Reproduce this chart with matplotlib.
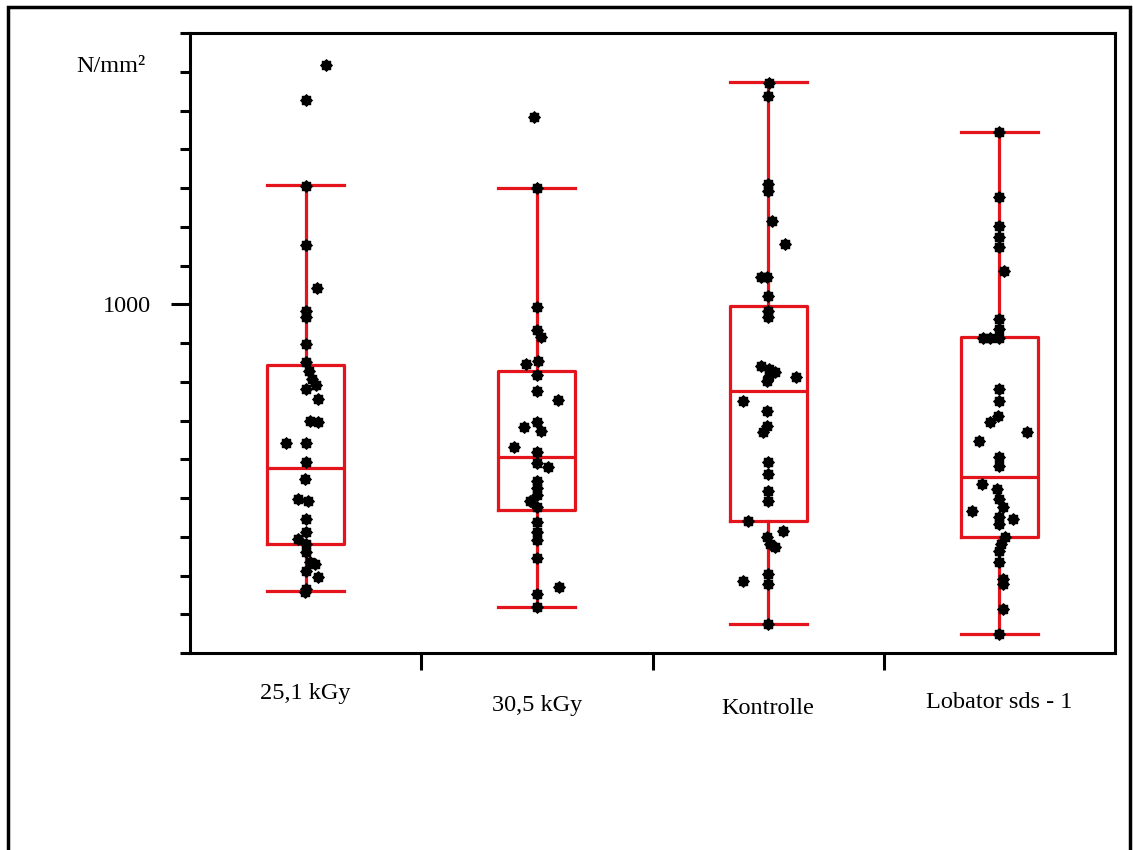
import numpy as np
import matplotlib
matplotlib.use("Agg")
import matplotlib.pyplot as plt
from matplotlib.path import Path
from matplotlib.patches import Rectangle

# === Gruppen ===
categories = ["25,1 kGy", "30,5 kGy", "Kontrolle", "Lobator sds - 1"]

# === Einzelwerte (N/mm²) ===
vals_251 = [1617, 1526, 1304, 1152, 1041, 982, 966, 897, 850, 827, 806, 791,
            781, 755, 698, 695, 641, 641, 592, 548, 497, 492, 445, 412, 394,
            381, 360, 334, 329, 311, 296, 265, 257]
vals_305 = [1482, 1299, 992, 933, 915, 853, 845, 817, 776, 752, 696, 683, 672,
            631, 618, 590, 579, 543, 525, 507, 492, 476, 438, 412, 391, 345,
            270, 252, 218]
vals_kon = [1570, 1537, 1310, 1292, 1214, 1155, 1070, 1070, 1021, 982, 966,
            840, 825, 832, 814, 801, 812, 750, 724, 685, 670, 592, 561, 518,
            492, 440, 414, 399, 381, 373, 303, 285, 278, 174]
vals_lob = [1444, 1276, 1201, 1173, 1147, 1085, 961, 935, 912, 912, 912, 781,
            750, 711, 696, 670, 647, 605, 582, 536, 523, 497, 476, 466, 450,
            445, 432, 399, 381, 363, 334, 290, 278, 213, 149]

# seitlicher Versatz der Punkte (Anteil einer Kategorie)
jit_251 = [0.09, 0, 0, 0, 0.048, 0, 0, 0, 0, 0.013, 0.026, 0.043, 0, 0.052,
           0.017, 0.052, -0.087, 0, 0, -0.004, -0.035, 0.009, 0, 0, -0.035, 0,
           0, 0.017, 0.039, 0, 0.052, 0, -0.004]
jit_305 = [-0.013, 0, 0, 0, 0.017, 0.004, -0.048, 0, 0, 0.091, 0, -0.056,
           0.017, -0.1, 0, 0, 0.048, 0, 0, 0, -0.03, 0, 0, 0, 0, 0, 0.095, 0, 0]
jit_kon = [0.004, 0, 0, 0, 0.017, 0.074, -0.03, -0.004, 0, 0, 0, -0.03, 0.03,
           0.004, 0.004, -0.004, 0.121, -0.108, -0.004, -0.004, -0.022, 0, 0,
           0, 0, -0.087, 0.065, -0.004, 0.009, 0.03, 0, -0.108, 0, 0]
jit_lob = [0, 0, 0, 0, 0, 0.022, 0, 0, -0.069, -0.039, 0, 0, 0, -0.004,
           -0.039, 0.121, -0.087, 0, 0, -0.074, -0.009, 0, 0.017, -0.117, 0,
           0.061, 0, 0.026, 0.009, 0, 0, 0.017, 0.017, 0.017, 0]

# === Boxplot-Kennwerte (unterer Whisker, Q1, Median, Q3, oberer Whisker) ===
whislo = [260, 218, 174, 149]
q1 = [381, 469, 440, 399]
med = [577, 605, 776, 554]
q3 = [843, 827, 995, 915]
whishi = [1307, 1299, 1573, 1444]

plt.rcParams["font.family"] = ["Liberation Serif", "DejaVu Serif"]
fs = 17.5

red = "#e3141c"
fig = plt.figure(figsize=(11.33, 8.5), dpi=100)
ax = fig.add_axes([190 / 1133, 1 - 653 / 850, 925 / 1133, 620 / 850])

pos = np.arange(len(categories)) + 0.5
stats = [dict(whislo=whislo[i], q1=q1[i], med=med[i], q3=q3[i],
              whishi=whishi[i], fliers=[]) for i in range(len(categories))]
line = dict(color=red, linewidth=2.3)
ax.bxp(stats, positions=pos, widths=0.333, capwidths=0.333,
       showfliers=False, boxprops=line, whiskerprops=line, capprops=line,
       medianprops=line, manage_ticks=False)

# Punktmarker ("Sonnen"-Form)
ang = np.linspace(0, 2 * np.pi, 17)[:-1]
rad = np.where(np.arange(16) % 2 == 0, 1.0, 0.78)
sun = Path(np.column_stack([rad * np.cos(ang), rad * np.sin(ang)]))

all_vals = [vals_251, vals_305, vals_kon, vals_lob]
all_jit = [jit_251, jit_305, jit_kon, jit_lob]
for i, (v, j) in enumerate(zip(all_vals, all_jit)):
    ax.scatter(pos[i] + np.array(j), v, marker=sun, s=90, color="black",
               zorder=5, linewidths=0)

ax.set_xlim(0, 4)
ax.set_ylim(100, 1700)

# Y-Achse: nur 1000 beschriftet, Nebenstriche alle 100
ax.set_yticks([1000])
ax.set_yticklabels(["1000"], fontsize=fs)
ax.set_yticks(np.arange(100, 1701, 100), minor=True)
ax.tick_params(axis="y", which="major", length=14, width=2.2, pad=14)
ax.tick_params(axis="y", which="minor", length=7, width=2.2)

# X-Achse: Striche zwischen Gruppen, Beschriftung mittig (leicht versetzt)
ax.set_xticks([1, 2, 3])
ax.set_xticklabels([])
ax.tick_params(axis="x", which="major", length=12, width=2.2)
label_drop = [40, 52, 55, 50]  # Abstand unter der Achse in Pixel
for p, txt, d in zip(pos, categories, label_drop):
    ax.annotate(txt, xy=(p, 0), xycoords=("data", "axes fraction"),
                xytext=(0, -d * 0.72), textcoords="offset points",
                ha="center", va="center", fontsize=fs)

for s in ax.spines.values():
    s.set_linewidth(2.2)

fig.text(145 / 1133, 1 - 66 / 850, "N/mm²", ha="right", va="center",
         fontsize=fs)

# Rahmen um die ganze Grafik
fig.patches.append(Rectangle((8 / 1133, -0.05), 1122 / 1133, 1 - 7 / 850 + 0.05,
                             transform=fig.transFigure, fill=False,
                             edgecolor="black", linewidth=2.5))

fig.savefig("out.png", dpi=100)
